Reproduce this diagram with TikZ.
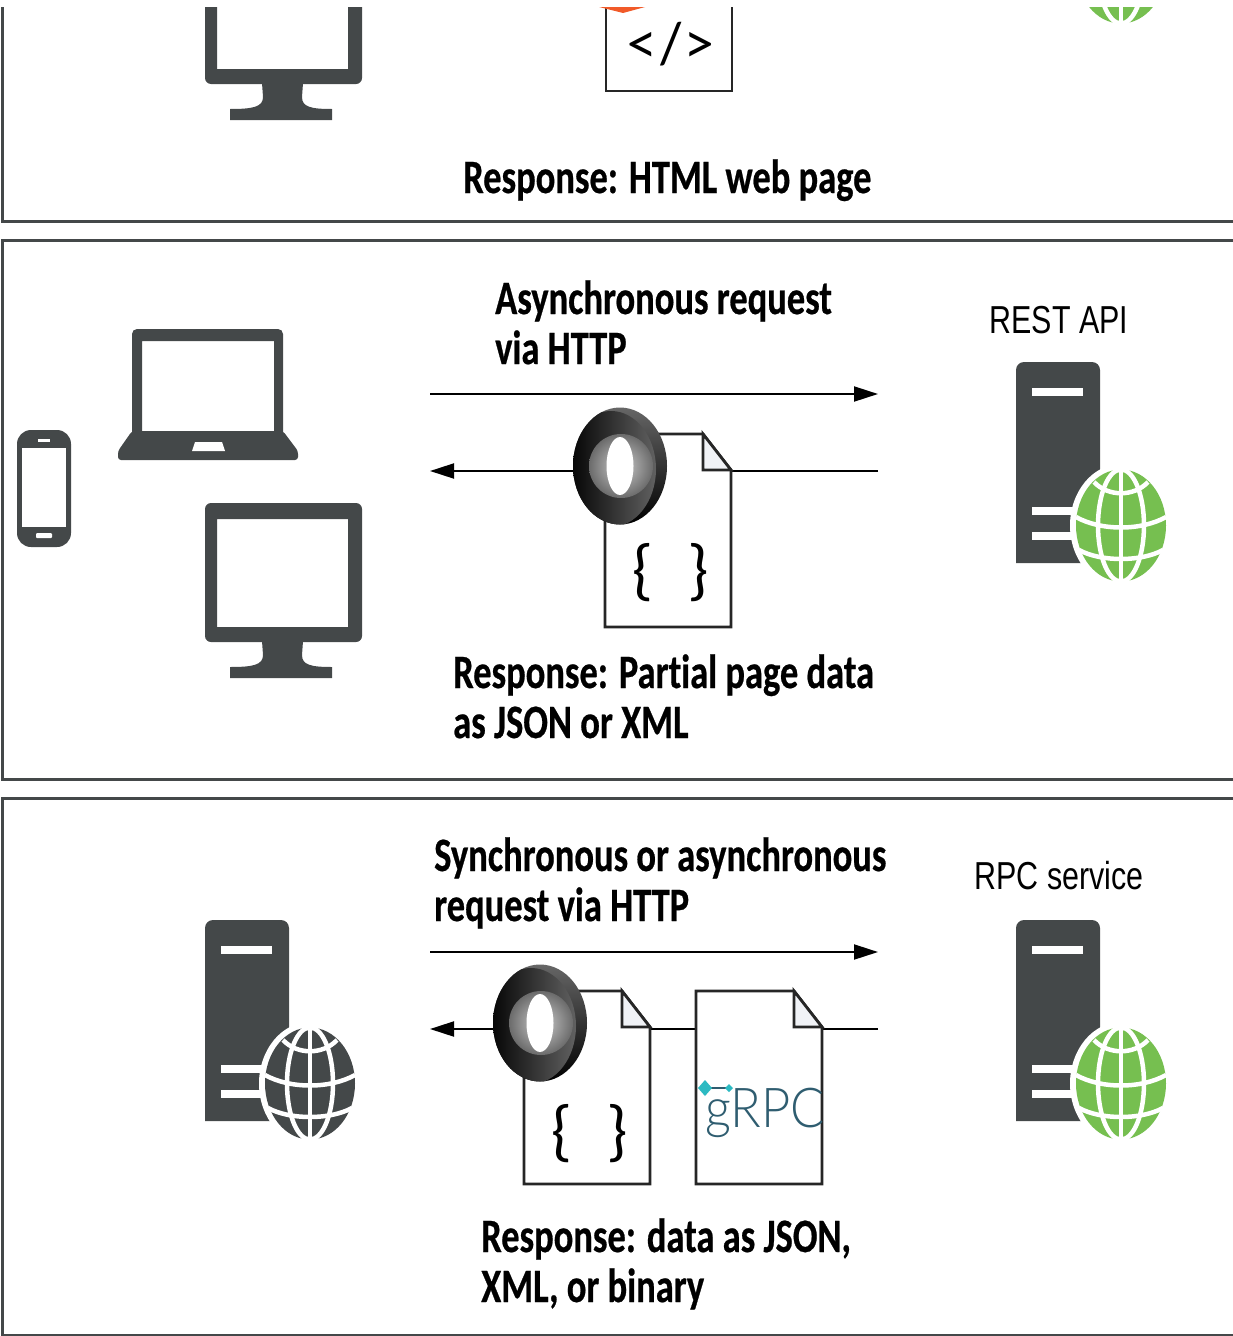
\documentclass[tikz,border=0pt]{standalone}
\usepackage{fontspec}
\usetikzlibrary{arrows.meta}
\newfontfamily\labelfont[FakeStretch=0.76,Ligatures=NoCommon,BoldFeatures={FakeBold=0.5}]{Carlito}
\newfontfamily\namefont[FakeStretch=0.78]{Liberation Sans}
\newfontfamily\bracefont{Lato}
\newfontfamily\grpcfont[FakeStretch=0.92]{Lato Light}
\definecolor{icongrey}{HTML}{444849}
\definecolor{globegreen}{HTML}{76BF50}
\definecolor{foldgrey}{HTML}{F0F2F6}
\definecolor{grpcblue}{HTML}{2F5D70}
\definecolor{grpcteal}{HTML}{2CBAC2}
\definecolor{htmlorange}{HTML}{F15A29}
\begin{document}
\begin{tikzpicture}[
    x=1pt, y=-1pt,
    panel/.style={draw=icongrey, line width=3pt},
    flow/.style={draw=black, line width=2pt, -{Stealth[length=24pt,width=15pt,inset=0pt]}},
    heading/.style={anchor=base west, align=left, inner sep=0pt,
                    font=\labelfont\bfseries\fontsize{48}{50}\selectfont},
    svcname/.style={anchor=base, inner sep=0pt, font=\namefont\fontsize{39}{40}\selectfont},
    curlies/.style={inner sep=0pt, font=\bracefont\fontsize{64}{64}\selectfont},
    sheet/.style={draw=black!85, line width=2.8pt, fill=white, line join=miter},
    pics/server/.style={code={
      \fill[icongrey] (0,201) [rounded corners=8pt] -- (0,0) -- (84,0) [sharp corners] -- (84,201) -- cycle;
      \foreach \yy in {26,145,170} {
        \fill[white] (16,\yy) rectangle (67,\yy+8);
      }
      \fill[white] (105,163.5) ellipse [x radius=51, y radius=61.5];
      \fill[#1] (105,163.5) ellipse [x radius=45, y radius=56];
      \begin{scope}[draw=white, line width=4.5pt]
        \draw (105,107) -- (105,220);
        \draw (105,163.5) ellipse [x radius=23, y radius=56];
        \draw (78,120) .. controls (92,135) and (118,135) .. (132,120);
        \draw (60,155) .. controls (85,169) and (125,169) .. (150,155);
        \draw (63,188) .. controls (85,200) and (125,200) .. (147,188);
      \end{scope}
    }},
    pics/monitor/.style={code={
      \fill[icongrey, even odd rule, rounded corners=6pt] (0,0) rectangle (157,139)
        [sharp corners] (12,16) rectangle (143,124);
      \fill[icongrey] (57,138) -- (58,152) .. controls (58,162) and (48,164) .. (25,164)
        -- (25,175) -- (127,175) -- (127,164) .. controls (106,164) and (97,162) .. (97,152) -- (98,138) -- cycle;
    }},
    pics/laptop/.style={code={
      \fill[icongrey, even odd rule, rounded corners=5pt] (0,0) rectangle (151,108)
        [sharp corners] (10,12) rectangle (142,103);
      \fill[icongrey, rounded corners=3pt] (0,102) -- (-14,122) -- (-14,131) -- (166,131) -- (166,122) -- (151,102) -- cycle;
      \fill[white] (63,113) -- (90,113) -- (93,122) -- (60,122) -- cycle;
    }},
    pics/phone/.style={code={
      \fill[icongrey, rounded corners=14pt] (0,0) rectangle (54,117);
      \fill[white] (5,18) rectangle (49,97);
      \fill[white] (21,9) rectangle (33,12);
      \fill[white, rounded corners=1pt] (19,103) rectangle (35,108);
    }},
    pics/docsheet/.style={code={
      \draw[sheet] (0,0) -- (98,0) -- (126,36) -- (126,193) -- (0,193) -- cycle;
      \draw[sheet, fill=foldgrey] (98,0) -- (126,36) -- (98,36) -- cycle;
    }},
    pics/jsonring/.style={code={
      \shade[top color=black!60, bottom color=black] (0,0) ellipse [x radius=47, y radius=58.5];
      \begin{scope}
        \clip (0,0) ellipse [x radius=47, y radius=58.5];
        \shade[left color=black, right color=black!62] (-9,3) ellipse [x radius=45, y radius=58];
      \end{scope}
      \shade[inner color=black!20, outer color=black!58] (1,0) ellipse [x radius=32, y radius=32];
      \fill[white] (0,0) ellipse [x radius=13.5, y radius=29];
    }}
  ]
  \useasboundingbox (0,0) rectangle (1233,1336);
  \begin{scope}
    \clip (0,7) rectangle (1233,1336);

    % panels
    \draw[panel] (2,7) -- (2,221) -- (1233,221);
    \draw[panel] (1233,240) -- (2,240) -- (2,779) -- (1233,779);
    \draw[panel] (1233,798) -- (2,798) -- (2,1335) -- (1233,1335);

    % top panel
    \pic at (205,-55) {monitor};
    \draw[sheet] (606,-102) rectangle (732,91);
    \fill[htmlorange] (599,7) -- (645,7) -- (623,13) -- cycle;
    \node[inner sep=0pt, font=\bracefont\fontsize{56}{56}\selectfont] (closetag) at (671,44) {</>};
    \pic at (1016,-196) {server=globegreen};
    \node[heading] (resphtml) at (463,193) {Response: HTML web page};

    % middle panel
    \pic at (132,329) {laptop};
    \pic at (17,430) {phone};
    \pic at (205,503) {monitor};
    \pic at (1016,362) {server=globegreen};
    \node[svcname] (restname) at (1059,333) {REST API};
    \node[heading] (asyncreq) at (495,364) {Asynchronous request\\via HTTP};
    \coordinate (reqa) at (430,394);
    \coordinate (reqb) at (878,394);
    \coordinate (reta) at (878,471);
    \coordinate (retb) at (430,471);
    \draw[flow] (reqa) -- (reqb);
    \draw[flow] (reta) -- (retb);
    \pic at (605,434) {docsheet};
    \node[curlies] (jsonbraces) at (671,573) {\{\hspace{38pt}\}};
    \pic at (620,466) {jsonring};
    \node[heading] (respjson) at (453,738) {Response: Partial page data\\as JSON or XML};

    % bottom panel
    \pic at (205,920) {server=icongrey};
    \pic at (1016,920) {server=globegreen};
    \node[svcname] (rpcname) at (1059,889) {RPC service};
    \node[heading] (syncreq) at (434,921) {Synchronous or asynchronous\\request via HTTP};
    \coordinate (rpca) at (430,952);
    \coordinate (rpcb) at (878,952);
    \coordinate (rpcc) at (878,1029);
    \coordinate (rpcd) at (430,1029);
    \draw[flow] (rpca) -- (rpcb);
    \draw[flow] (rpcc) -- (rpcd);
    \pic at (524,991) {docsheet};
    \pic at (696,991) {docsheet};
    \node[curlies] (rpcbraces) at (590,1134) {\{\hspace{38pt}\}};
    \pic at (540,1023) {jsonring};
    \node[anchor=base west, inner sep=0pt, text=grpcblue, font=\grpcfont\fontsize{55}{55}\selectfont] (grpcname) at (705,1127) {gRPC};
    \draw[grpcblue, line width=1.2pt] (705,1088) -- (729,1088);
    \fill[grpcteal] (698,1088) -- (705,1080) -- (712,1088) -- (705,1096) -- cycle;
    \fill[grpcteal] (725,1088) -- (729,1084) -- (733,1088) -- (729,1092) -- cycle;
    \node[heading] (respdata) at (481,1302) {Response: data as JSON,\\XML, or binary};
  \end{scope}
\end{tikzpicture}
\end{document}
